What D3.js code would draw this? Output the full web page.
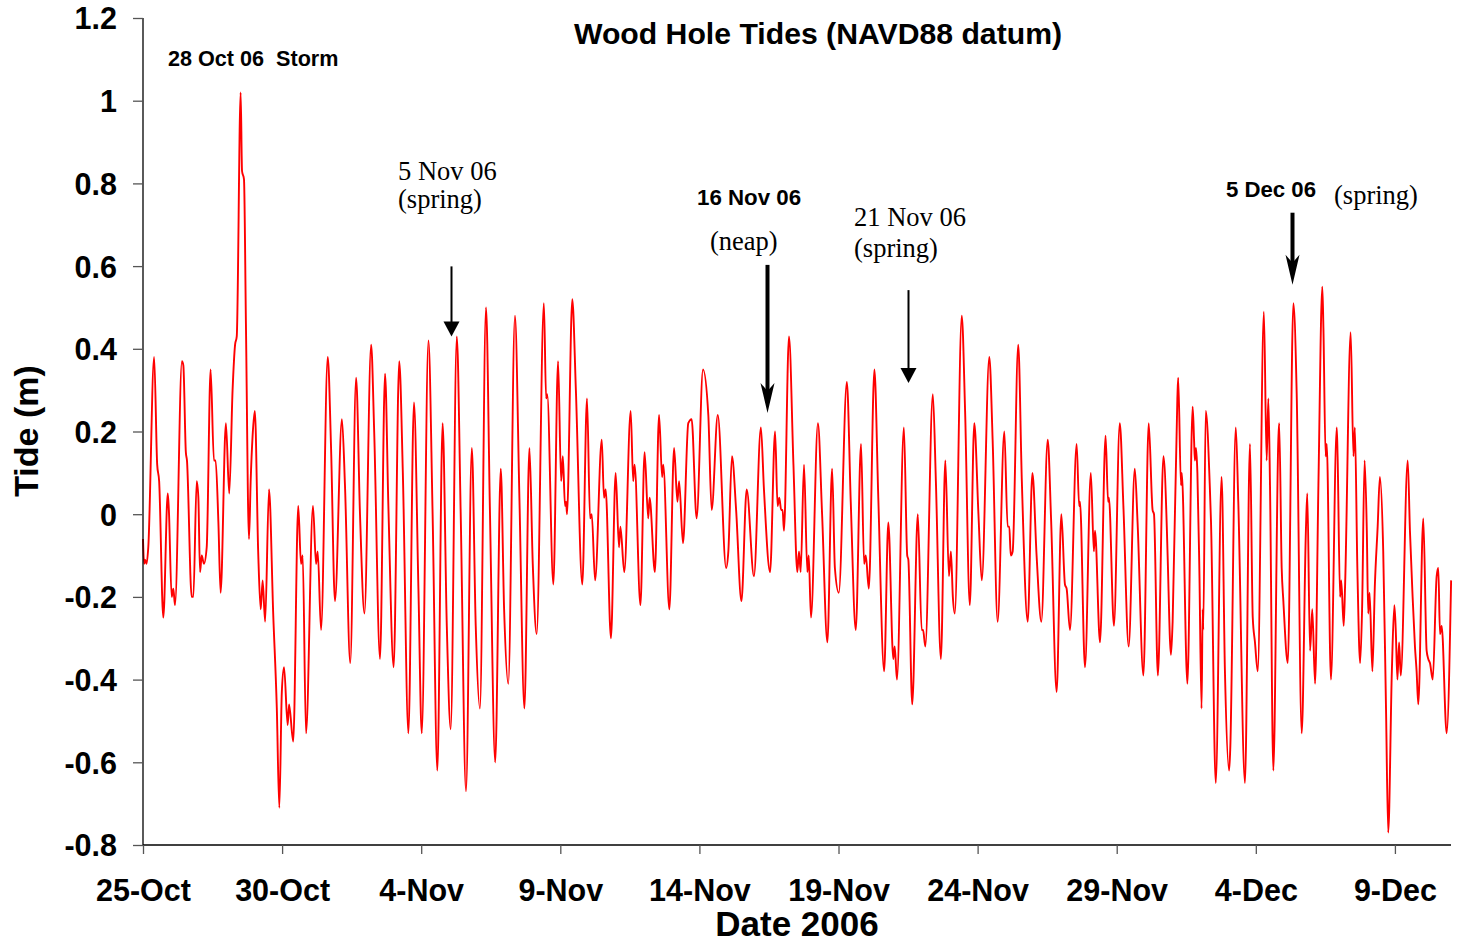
<!DOCTYPE html>
<html>
<head>
<meta charset="utf-8">
<script src="https://cdn.jsdelivr.net/npm/d3@7"></script>
<style>
  html, body { margin: 0; padding: 0; background: #fff; }
  svg { display: block; }
  .sans { font-family: "Liberation Sans", Arial, sans-serif; font-weight: bold; }
  .serif { font-family: "Liberation Serif", "Times New Roman", serif; }
</style>
</head>
<body>
<svg id="chart" width="1462" height="943"></svg>
<script>
// Wood Hole water level record, days elapsed since 25 Oct 2006 00:00 (UTC)
const dayOffsets = [
  0.00, 0.04, 0.07, 0.13, 0.19, 0.40, 0.51, 0.58, 0.73, 0.89, 0.93, 1.03, 1.09, 1.15, 1.40, 1.45,
  1.54, 1.58, 1.75, 1.81, 1.93, 1.99, 2.05, 2.11, 2.19, 2.29, 2.43, 2.55, 2.61, 2.71, 2.79, 2.98,
  3.10, 3.22, 3.31, 3.37, 3.51, 3.56, 3.63, 3.70, 3.81, 3.87, 3.94, 4.02, 4.14, 4.23, 4.30, 4.39,
  4.53, 4.68, 4.81, 4.90, 4.99, 5.07, 5.20, 5.25, 5.40, 5.58, 5.68, 5.74, 5.86, 6.11, 6.22, 6.28,
  6.40, 6.64, 6.76, 6.90, 7.15, 7.26, 7.45, 7.66, 7.80, 7.96, 8.20, 8.31, 8.52, 8.70, 8.82, 9.01,
  9.21, 9.34, 9.54, 9.74, 9.90, 10.02, 10.26, 10.41, 10.58, 10.77, 10.92, 11.06, 11.28, 11.42, 11.61, 11.82,
  11.96, 12.11, 12.33, 12.47, 12.66, 12.86, 12.98, 13.13, 13.37, 13.53, 13.71, 13.89, 14.01, 14.15, 14.41, 14.49,
  14.53, 14.75, 14.92, 15.03, 15.09, 15.17, 15.21, 15.24, 15.43, 15.56, 15.79, 15.96, 16.07, 16.13, 16.25, 16.49,
  16.57, 16.63, 16.82, 16.99, 17.11, 17.16, 17.30, 17.53, 17.62, 17.67, 17.88, 18.03, 18.16, 18.21, 18.40, 18.55,
  18.66, 18.70, 18.92, 19.09, 19.21, 19.27, 19.41, 19.60, 19.72, 19.90, 20.13, 20.32, 20.44, 20.66, 20.96, 21.04,
  21.17, 21.32, 21.51, 21.70, 21.96, 22.21, 22.32, 22.54, 22.72, 22.81, 22.87, 22.94, 22.99, 23.04, 23.22, 23.38,
  23.52, 23.58, 23.64, 23.76, 23.88, 23.93, 24.01, 24.26, 24.41, 24.60, 24.77, 24.87, 25.01, 25.30, 25.44, 25.62,
  25.81, 25.92, 25.98, 26.09, 26.29, 26.43, 26.64, 26.79, 26.97, 27.02, 27.10, 27.35, 27.47, 27.51, 27.65, 27.85,
  27.99, 28.04, 28.12, 28.39, 28.50, 28.68, 28.84, 28.97, 29.04, 29.11, 29.18, 29.43, 29.55, 29.72, 29.88, 30.03,
  30.15, 30.42, 30.54, 30.72, 30.96, 31.08, 31.14, 31.19, 31.26, 31.46, 31.59, 31.80, 31.97, 32.12, 32.29, 32.52,
  32.64, 32.84, 33.01, 33.14, 33.20, 33.32, 33.56, 33.65, 33.68, 33.86, 34.07, 34.18, 34.22, 34.40, 34.60, 34.69,
  34.72, 34.90, 35.11, 35.24, 35.43, 35.65, 35.75, 35.96, 36.15, 36.29, 36.34, 36.48, 36.68, 36.80, 36.83, 36.95,
  37.01, 37.18, 37.21, 37.31, 37.34, 37.54, 37.73, 37.78, 37.81, 37.85, 37.90, 37.97, 38.05, 38.09, 38.11, 38.20,
  38.35, 38.39, 38.56, 38.77, 38.89, 39.04, 39.08, 39.28, 39.37, 39.61, 39.79, 39.89, 39.97, 40.07, 40.29, 40.39,
  40.45, 40.51, 40.63, 40.81, 40.84, 40.93, 40.99, 41.15, 41.35, 41.47, 41.65, 41.80, 41.85, 41.95, 42.03, 42.13,
  42.25, 42.39, 42.43, 42.51, 42.55, 42.70, 42.91, 42.94, 43.03, 43.07, 43.16, 43.21, 43.41, 43.51, 43.56, 43.65,
  43.75, 43.82, 43.91, 43.99, 44.04, 44.09, 44.19, 44.28, 44.38, 44.46, 44.58, 44.68, 44.76, 44.89, 44.98, 45.03,
  45.09, 45.15, 45.21, 45.46, 45.54, 45.63, 45.72, 45.78, 45.84, 46.02, 46.14, 46.20, 46.26, 46.36, 46.50, 46.56,
  46.62, 46.68, 46.86, 47.02
];

// Water level (m, NAVD88) at each of the times above
const tideLevels = [
  -0.06, -0.12, -0.11, -0.12, -0.08, 0.38, 0.12, 0.08, -0.25, 0.05, 0.01, -0.20, -0.18, -0.22, 0.37, 0.36,
  0.15, 0.13, -0.20, -0.20, 0.08, 0.04, -0.14, -0.10, -0.12, -0.08, 0.35, 0.13, 0.13, -0.02, -0.19, 0.22,
  0.05, 0.30, 0.41, 0.43, 1.02, 0.83, 0.81, 0.46, -0.06, 0.08, 0.19, 0.25, -0.09, -0.23, -0.16, -0.26,
  0.06, -0.24, -0.47, -0.71, -0.43, -0.37, -0.51, -0.46, -0.55, 0.02, -0.12, -0.10, -0.53, 0.02, -0.12, -0.09,
  -0.28, 0.38, 0.16, -0.21, 0.23, 0.07, -0.36, 0.33, 0.00, -0.24, 0.41, 0.20, -0.35, 0.34, 0.02, -0.37,
  0.37, 0.10, -0.53, 0.27, -0.18, -0.53, 0.42, 0.00, -0.62, 0.22, -0.27, -0.52, 0.43, 0.00, -0.67, 0.16,
  -0.27, -0.47, 0.50, 0.01, -0.60, 0.11, -0.23, -0.41, 0.48, 0.04, -0.47, 0.16, -0.12, -0.29, 0.51, 0.28,
  0.29, -0.17, 0.37, 0.08, 0.14, 0.02, 0.03, 0.00, 0.52, 0.30, -0.17, 0.28, -0.01, 0.00, -0.16, 0.18,
  0.04, 0.06, -0.30, 0.10, -0.08, -0.03, -0.14, 0.25, 0.08, 0.12, -0.22, 0.15, -0.01, 0.04, -0.14, 0.24,
  0.09, 0.12, -0.23, 0.16, 0.03, 0.08, -0.07, 0.22, 0.23, -0.01, 0.35, 0.24, 0.01, 0.24, -0.13, -0.09,
  0.14, 0.01, -0.21, 0.06, -0.15, 0.21, 0.06, -0.14, 0.20, 0.02, 0.04, 0.01, 0.01, -0.04, 0.43, 0.12,
  -0.14, -0.09, -0.14, 0.12, -0.14, -0.10, -0.25, 0.22, 0.00, -0.31, 0.11, -0.13, -0.19, 0.32, 0.03, -0.28,
  0.17, -0.12, -0.10, -0.18, 0.35, 0.04, -0.38, -0.02, -0.35, -0.32, -0.40, 0.21, -0.10, -0.11, -0.46, 0.00,
  -0.28, -0.28, -0.32, 0.29, 0.08, -0.35, 0.13, -0.15, -0.09, -0.20, -0.24, 0.48, 0.25, -0.22, 0.22, 0.00,
  -0.16, 0.38, 0.18, -0.26, 0.20, -0.03, -0.03, -0.10, -0.09, 0.41, 0.08, -0.26, 0.10, -0.10, -0.26, 0.18,
  -0.01, -0.43, 0.00, -0.17, -0.18, -0.28, 0.17, 0.02, 0.03, -0.37, 0.10, -0.09, -0.04, -0.31, 0.19, 0.03,
  0.04, -0.27, 0.22, 0.02, -0.32, 0.11, -0.02, -0.39, 0.22, 0.01, 0.00, -0.39, 0.14, -0.03, -0.10, -0.34,
  -0.26, 0.28, 0.33, 0.07, 0.10, -0.41, 0.26, 0.18, 0.13, 0.16, 0.10, -0.13, -0.47, -0.23, -0.28, 0.25,
  0.06, -0.02, -0.65, 0.09, -0.38, -0.62, -0.57, 0.21, 0.03, -0.65, 0.17, -0.25, -0.31, -0.38, 0.49, 0.13,
  0.28, 0.07, -0.62, 0.18, 0.22, -0.13, -0.21, -0.36, 0.51, 0.29, -0.53, -0.04, 0.05, -0.33, -0.23, -0.41,
  0.07, 0.55, 0.45, 0.14, 0.17, -0.40, 0.21, 0.14, -0.20, -0.16, -0.27, -0.17, 0.44, 0.14, 0.21, -0.13,
  -0.36, -0.23, 0.13, -0.04, -0.24, -0.19, -0.38, -0.17, -0.03, 0.09, -0.09, -0.47, -0.77, -0.38, -0.22, -0.28,
  -0.40, -0.31, -0.39, 0.13, -0.04, -0.19, -0.32, -0.38, -0.46, -0.01, -0.33, -0.35, -0.36, -0.40, -0.15, -0.13,
  -0.29, -0.27, -0.53, -0.16
];

// Axis ticks
const dateTicks = ["2006-10-25", "2006-10-30", "2006-11-04", "2006-11-09", "2006-11-14",
                   "2006-11-19", "2006-11-24", "2006-11-29", "2006-12-04", "2006-12-09"];
const levelTicks = [1.2, 1, 0.8, 0.6, 0.4, 0.2, 0, -0.2, -0.4, -0.6, -0.8];

// Spring / neap markers: time of the marked tide (days) and its level (m)
const arrowDays = [11.08, 22.43, 27.48, 41.30];
const arrowLevels = [0.43, 0.245, 0.317, 0.555];
const arrowLengths = [70, 148, 93, 72];
const arrowHeavy = [false, true, false, true];

const DAY = 86400000;
const t0 = Date.UTC(2006, 9, 25);
const toDate = d => new Date(t0 + d * DAY);
const series = dayOffsets.map((d, i) => ({ t: toDate(d), v: tideLevels[i] }));

const svg = d3.select("#chart");
const plotLeft = 143, plotRight = 1451, plotTop = 18, plotBottom = 845;

const x = d3.scaleUtc()
  .domain([toDate(0), toDate(47.016)])
  .range([plotLeft, plotRight]);
const y = d3.scaleLinear()
  .domain([-0.8, 1.2])
  .range([plotBottom, plotTop]);

// Tide curve
const line = d3.line()
  .x(d => x(d.t))
  .y(d => y(d.v))
  .curve(d3.curveMonotoneX);

svg.append("path")
  .datum(series)
  .attr("fill", "none")
  .attr("stroke", "#ff0000")
  .attr("stroke-width", 1.9)
  .attr("stroke-linejoin", "round")
  .attr("d", line);

// Y axis
const yAxis = d3.axisLeft(y)
  .tickValues(levelTicks)
  .tickSize(10)
  .tickPadding(16)
  .tickFormat(v => v === 0 ? "0" : String(+v.toFixed(1)));
const gy = svg.append("g")
  .attr("transform", `translate(${plotLeft},0)`)
  .call(yAxis);
gy.select(".domain").attr("stroke", "#000").attr("stroke-width", 1.3).attr("d", `M0,${plotTop}V${plotBottom}`);
gy.selectAll(".tick line").attr("stroke", "#555").attr("stroke-width", 1.3);
gy.selectAll(".tick text")
  .attr("class", "sans")
  .attr("font-size", 30.5)
  .attr("fill", "#000")
  .attr("dy", "0.36em");

// X axis
const xAxis = d3.axisBottom(x)
  .tickValues(dateTicks.map(s => new Date(s + "T00:00:00Z")))
  .tickSize(9)
  .tickPadding(25)
  .tickFormat(d3.utcFormat("%-d-%b"));
const gx = svg.append("g")
  .attr("transform", `translate(0,${plotBottom})`)
  .call(xAxis);
gx.select(".domain").attr("stroke", "#000").attr("stroke-width", 1.3).attr("d", `M${plotLeft},0H${plotRight}`);
gx.selectAll(".tick line").attr("stroke", "#555").attr("stroke-width", 1.3);
gx.selectAll(".tick text")
  .attr("class", "sans")
  .attr("font-size", 30.5)
  .attr("fill", "#000");

// Axis titles
svg.append("text")
  .attr("class", "sans")
  .attr("x", 797).attr("y", 936)
  .attr("text-anchor", "middle")
  .attr("font-size", 35)
  .text("Date 2006");

svg.append("text")
  .attr("class", "sans")
  .attr("transform", "translate(38,431) rotate(-90)")
  .attr("text-anchor", "middle")
  .attr("font-size", 34)
  .text("Tide (m)");

// Chart title
svg.append("text")
  .attr("class", "sans")
  .attr("x", 818).attr("y", 44)
  .attr("text-anchor", "middle")
  .attr("font-size", 30.2)
  .text("Wood Hole Tides (NAVD88 datum)");

// Annotations
const notes = [
  { text: "28 Oct 06  Storm", x: 168, y: 66, cls: "sans", size: 21.6 },
  { text: "5 Nov 06", x: 398, y: 180, cls: "serif", size: 26.5 },
  { text: "(spring)", x: 398, y: 208, cls: "serif", size: 26.5 },
  { text: "16 Nov 06", x: 697, y: 205, cls: "sans", size: 22.3 },
  { text: "(neap)", x: 710, y: 250, cls: "serif", size: 26.5 },
  { text: "21 Nov 06", x: 854, y: 226, cls: "serif", size: 26.5 },
  { text: "(spring)", x: 854, y: 257, cls: "serif", size: 26.5 },
  { text: "5 Dec 06", x: 1226, y: 197, cls: "sans", size: 22.2 },
  { text: "(spring)", x: 1334, y: 204, cls: "serif", size: 26.5 }
];
svg.append("g").selectAll("text")
  .data(notes)
  .join("text")
  .attr("class", d => d.cls)
  .attr("x", d => d.x)
  .attr("y", d => d.y)
  .attr("font-size", d => d.size)
  .attr("fill", "#000")
  .style("white-space", "pre")
  .text(d => d.text);

// Arrows pointing down at the marked tides
const arrows = svg.append("g");
arrowDays.forEach((d, i) => {
  const ax = Math.round(x(toDate(d))) + 0.5;
  const tipY = y(arrowLevels[i]);
  const topY = tipY - arrowLengths[i];
  const heavy = arrowHeavy[i];
  const headLen = heavy ? 30 : 15;
  const halfW = heavy ? 7 : 8;
  const notch = heavy ? 8 : 0;
  arrows.append("line")
    .attr("x1", ax).attr("x2", ax)
    .attr("y1", topY).attr("y2", tipY - headLen + notch + 1)
    .attr("stroke", "#000")
    .attr("stroke-width", heavy ? 4 : 2);
  arrows.append("path")
    .attr("d", `M${ax},${tipY} L${ax - halfW},${tipY - headLen} L${ax},${tipY - headLen + notch} L${ax + halfW},${tipY - headLen} Z`)
    .attr("fill", "#000");
});
</script>
</body>
</html>
